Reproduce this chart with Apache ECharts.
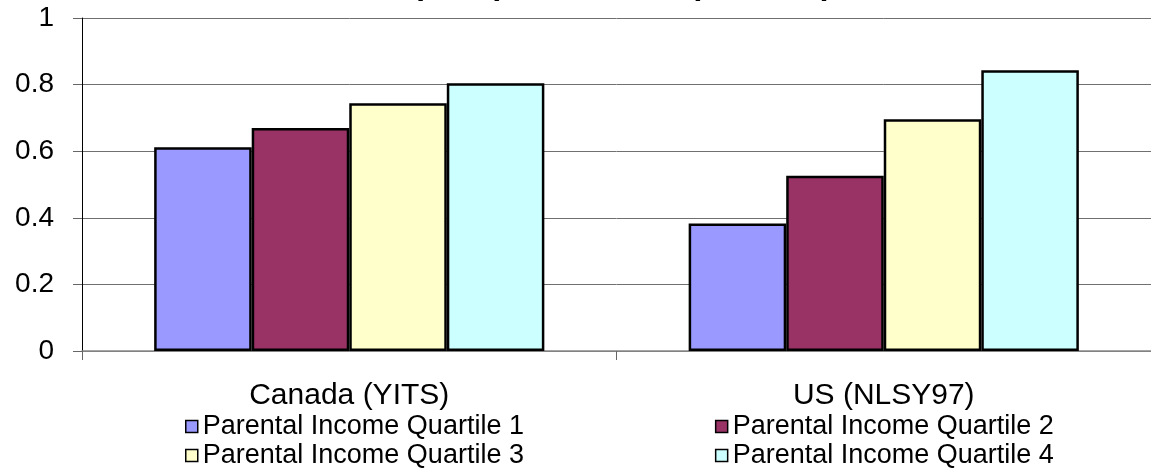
<!DOCTYPE html>
<html>
<head>
<meta charset="utf-8">
<script src="https://cdn.jsdelivr.net/npm/echarts@6/dist/echarts.min.js"></script>
<style>
  html, body { margin: 0; padding: 0; background: #fff; }
  #chart { width: 1151px; height: 472px; }
</style>
</head>
<body>
<div id="chart"></div>
<script>
const categories = ['Canada (YITS)', 'US (NLSY97)'];
const seriesNames = ['Parental Income Quartile 1', 'Parental Income Quartile 2', 'Parental Income Quartile 3', 'Parental Income Quartile 4'];
const quartile1 = [0.612, 0.383];
const quartile2 = [0.670, 0.526];
const quartile3 = [0.744, 0.696];
const quartile4 = [0.804, 0.843];
const yTickLabels = ['0', '0.2', '0.4', '0.6', '0.8', '1'];
const titleText = 'Canada (YITS) and the US (NLSY97)';

const colors = ['#9999FF', '#993366', '#FFFFCC', '#CCFFFF'];
const values = [quartile1, quartile2, quartile3, quartile4];
const FONT = '"Liberation Sans", Arial, sans-serif';

const chart = echarts.init(document.getElementById('chart'));
const legendCommon = {
  orient: 'horizontal',
  icon: 'rect',
  itemWidth: 12,
  itemHeight: 12,
  itemGap: 191,
  padding: 0,
  itemStyle: { borderColor: '#000', borderWidth: 1.5 },
  textStyle: { fontFamily: FONT, fontSize: 27, color: '#000', lineHeight: 27 }
};
chart.setOption({
  animation: false,
  backgroundColor: '#fff',
  graphic: [{
    type: 'text',
    x: 288,
    y: 1,
    silent: true,
    style: {
      text: titleText,
      font: 'bold 32px ' + FONT,
      fill: '#000',
      textAlign: 'left',
      textVerticalAlign: 'bottom'
    }
  }],
  grid: { left: 82, right: 0, top: 18, bottom: 121, containLabel: false },
  legend: [
    Object.assign({}, legendCommon, { data: [seriesNames[0], seriesNames[1]], left: 185, top: 413 }),
    Object.assign({}, legendCommon, { data: [seriesNames[2], seriesNames[3]], left: 185, top: 442 })
  ],
  xAxis: {
    type: 'category',
    data: categories,
    axisLine: { lineStyle: { color: '#888', width: 1.5 } },
    axisTick: { show: true, length: 9, lineStyle: { color: '#666', width: 1 } },
    axisLabel: { fontFamily: FONT, fontSize: 30, color: '#000', margin: 30 },
    splitLine: { show: false }
  },
  yAxis: {
    type: 'value',
    min: 0,
    max: 1,
    interval: 0.2,
    axisLine: { show: true, lineStyle: { color: '#000', width: 1 } },
    axisTick: { show: true, length: 9, lineStyle: { color: '#666' } },
    axisLabel: {
      fontFamily: FONT, fontSize: 28, color: '#000', margin: 28,
      formatter: function (v) { return yTickLabels[Math.round(v * 5)]; }
    },
    splitLine: { show: true, lineStyle: { color: '#707070', width: 1 } }
  },
  series: values.map(function (vals, i) {
    return {
      name: seriesNames[i],
      type: 'bar',
      data: vals,
      barGap: '0%',
      barCategoryGap: '27%',
      itemStyle: { color: colors[i], borderColor: '#000', borderWidth: 2.5 }
    };
  })
});
</script>
</body>
</html>
